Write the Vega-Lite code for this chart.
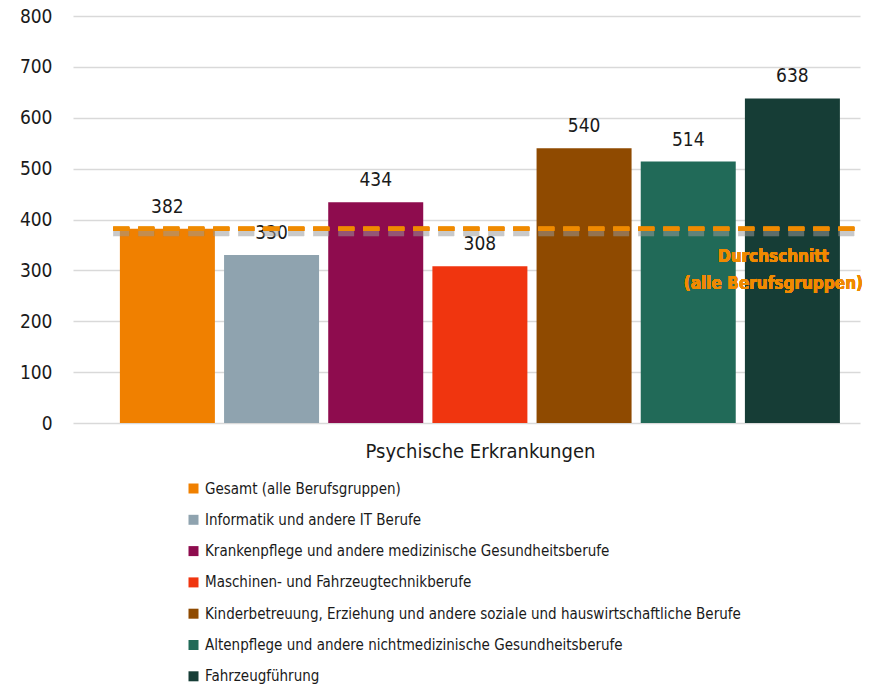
{
  "$schema": "https://vega.github.io/schema/vega-lite/v6.json",
  "autosize": {"type": "none"},
  "padding": {"left": 73, "top": 16, "right": 34, "bottom": 264},
  "width": 787,
  "height": 407,
  "background": "white",
  "config": {
    "view": {"stroke": null},
    "font": "DejaVu Sans Condensed"
  },
  "data": {
    "values": [
      {"group": "Gesamt (alle Berufsgruppen)", "value": 382},
      {"group": "Informatik und andere IT Berufe", "value": 330},
      {"group": "Krankenpflege und andere medizinische Gesundheitsberufe", "value": 434},
      {"group": "Maschinen- und Fahrzeugtechnikberufe", "value": 308},
      {"group": "Kinderbetreuung, Erziehung und andere soziale und hauswirtschaftliche Berufe", "value": 540},
      {"group": "Altenpflege und andere nichtmedizinische Gesundheitsberufe", "value": 514},
      {"group": "Fahrzeugführung", "value": 638}
    ]
  },
  "encoding": {
    "x": {
      "field": "group",
      "type": "nominal",
      "sort": null,
      "scale": {"paddingInner": 0.088, "paddingOuter": 0.3215, "align": 0.7},
      "axis": {
        "labels": false,
        "ticks": false,
        "domain": false,
        "title": "Psychische Erkrankungen",
        "titleFont": "DejaVu Sans Condensed",
        "titleFontSize": 20,
        "titleFontWeight": "normal",
        "titleColor": "#1a1a1a",
        "titlePadding": 18,
        "titleX": 407
      }
    }
  },
  "layer": [
    {
      "mark": {"type": "bar"},
      "encoding": {
        "y": {
          "field": "value",
          "type": "quantitative",
          "scale": {"domain": [0, 800], "nice": false},
          "axis": {
            "title": null,
            "values": [0, 100, 200, 300, 400, 500, 600, 700, 800],
            "domain": false,
            "ticks": false,
            "labelPadding": 21,
            "labelFont": "DejaVu Sans Condensed",
            "labelFontSize": 19,
            "labelColor": "#1a1a1a",
            "gridColor": "#d9d9d9",
            "gridWidth": 1.5
          }
        },
        "color": {
          "field": "group",
          "type": "nominal",
          "sort": null,
          "scale": {
            "domain": [
              "Gesamt (alle Berufsgruppen)",
              "Informatik und andere IT Berufe",
              "Krankenpflege und andere medizinische Gesundheitsberufe",
              "Maschinen- und Fahrzeugtechnikberufe",
              "Kinderbetreuung, Erziehung und andere soziale und hauswirtschaftliche Berufe",
              "Altenpflege und andere nichtmedizinische Gesundheitsberufe",
              "Fahrzeugführung"
            ],
            "range": ["#F08000", "#8FA3AF", "#8E0C4E", "#F0350F", "#8F4A00", "#216A58", "#163D36"]
          },
          "legend": {
            "title": null,
            "orient": "none",
            "legendX": 113,
            "legendY": 465,
            "direction": "vertical",
            "symbolType": "square",
            "symbolSize": 100,
            "symbolStrokeWidth": 0,
            "labelFont": "DejaVu Sans Condensed",
            "labelFontSize": 15,
            "labelColor": "#1a1a1a",
            "labelOffset": 4,
            "rowPadding": 15.3,
            "padding": 0,
            "labelLimit": 700
          }
        }
      }
    },
    {
      "mark": {"type": "text", "baseline": "alphabetic", "dy": -16, "fontSize": 19, "color": "#1a1a1a"},
      "encoding": {
        "y": {"field": "value", "type": "quantitative"},
        "text": {"field": "value", "type": "quantitative"}
      }
    },
    {
      "mark": {"type": "rule", "color": "#999999", "opacity": 0.1, "strokeWidth": 9, "strokeDash": [16, 9], "yOffset": 3},
      "encoding": {
        "x": {"datum": "Gesamt (alle Berufsgruppen)", "bandPosition": -0.07},
        "x2": {"datum": "Fahrzeugführung", "bandPosition": 1.23},
        "y": {"datum": 382}
      }
    },
    {
      "mark": {"type": "rule", "color": "#F08A00", "strokeWidth": 4, "strokeDash": [16, 9]},
      "encoding": {
        "x": {"datum": "Gesamt (alle Berufsgruppen)", "bandPosition": -0.07},
        "x2": {"datum": "Fahrzeugführung", "bandPosition": 1.23},
        "y": {"datum": 382}
      }
    },
    {
      "mark": {"type": "text", "align": "center", "baseline": "middle", "dy": 28, "fontSize": 17, "fontWeight": "bold", "color": "#F08A00", "lineHeight": 27},
      "encoding": {
        "x": {"datum": "Fahrzeugführung", "bandPosition": 0.3},
        "y": {"datum": 382},
        "text": {"value": ["Durchschnitt", "(alle Berufsgruppen)"]}
      }
    }
  ]
}
